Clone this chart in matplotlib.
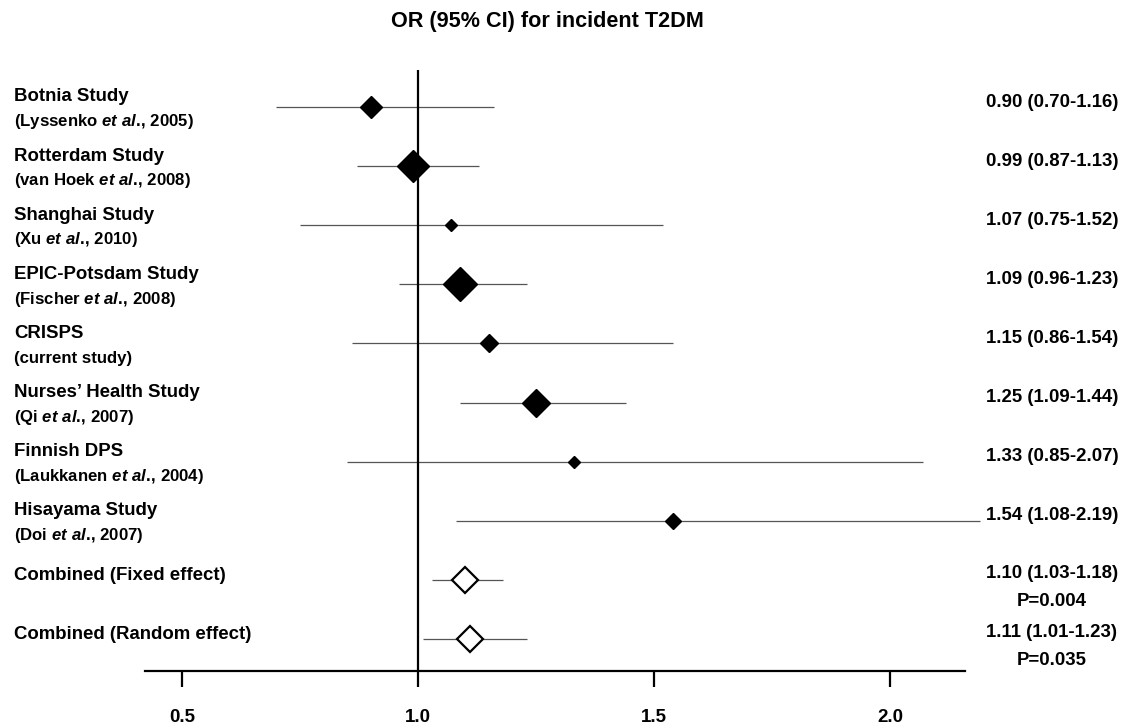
import numpy as np
import matplotlib.pyplot as plt
from matplotlib.transforms import blended_transform_factory

plt.rcParams['font.family'] = ['Liberation Sans', 'DejaVu Sans']
plt.rcParams['font.weight'] = 'bold'
plt.rcParams['mathtext.fontset'] = 'custom'
plt.rcParams['mathtext.it'] = 'Liberation Sans:italic:bold'
plt.rcParams['mathtext.rm'] = 'Liberation Sans:bold'

ETAL = r'$\mathit{et\ al.}\!$'

## study data
studies = ['Botnia Study', 'Rotterdam Study', 'Shanghai Study', 'EPIC-Potsdam Study',
           'CRISPS', "Nurses\u2019 Health Study", 'Finnish DPS', 'Hisayama Study']
refs = ['(Lyssenko ' + ETAL + ', 2005)', '(van Hoek ' + ETAL + ', 2008)',
        '(Xu ' + ETAL + ', 2010)', '(Fischer ' + ETAL + ', 2008)',
        '(current study)', '(Qi ' + ETAL + ', 2007)',
        '(Laukkanen ' + ETAL + ', 2004)', '(Doi ' + ETAL + ', 2007)']
or_est = [0.90, 0.99, 1.07, 1.09, 1.15, 1.25, 1.33, 1.54]
ci_low = [0.70, 0.87, 0.75, 0.96, 0.86, 1.09, 0.85, 1.08]
ci_high = [1.16, 1.13, 1.52, 1.23, 1.54, 1.44, 2.07, 2.19]
weights = [10.0, 23.1, 3.8, 27.7, 8.1, 19.0, 3.3, 5.1]   # % weight (box area)

## pooled estimates
pooled_names = ['Combined (Fixed effect)', 'Combined (Random effect)']
pooled_or = [1.10, 1.11]
pooled_low = [1.03, 1.01]
pooled_high = [1.18, 1.23]
pooled_p = ['P=0.004', 'P=0.035']

xticks = [0.5, 1.0, 1.5, 2.0]

fig = plt.figure(figsize=(11.22, 7.24), dpi=100)
ax = fig.add_axes([145/1122, 1-671/724, 820/1122, 601/724])

n = len(studies)
rows = np.arange(n)
prow = np.arange(n, n + len(pooled_names))

# CI lines
ax.hlines(rows, ci_low, ci_high, color='#555555', lw=0.9, clip_on=False, zorder=2)
ax.hlines(prow, pooled_low, pooled_high, color='#555555', lw=0.9, clip_on=False, zorder=2)

# study diamonds, width scaled by sqrt(weight)
for r, x, w in zip(rows, or_est, weights):
    width_px = 35 * np.sqrt(w / max(weights))
    ax.plot(x, r, marker='D', ms=width_px * 0.72 / np.sqrt(2), color='black',
            mec='black', clip_on=False, zorder=4)
for r, x in zip(prow, pooled_or):
    ax.plot(x, r, marker='D', ms=27 * 0.72 / np.sqrt(2), mfc='white', mec='black',
            mew=1.6, clip_on=False, zorder=4)

# reference line at OR = 1
ax.axvline(1.0, color='black', lw=1.6, zorder=3)

ax.set_xlim(0.4216, 2.159)
ax.set_ylim(9.543, -0.626)
for s in ['top', 'right', 'left']:
    ax.spines[s].set_visible(False)
ax.spines['bottom'].set_linewidth(1.6)
ax.set_yticks([])
ax.set_xticks(xticks)
ax.set_xticklabels(['%.1f' % t for t in xticks], fontsize=13.5, fontweight='bold')
# tick marks drawn as short lines hanging below the axis
ax.tick_params(axis='x', length=0, pad=27)
ax.vlines(xticks, -0.027, 0, transform=ax.get_xaxis_transform(), color='black',
          lw=1.6, clip_on=False, zorder=5)

# left labels and right OR text
tr = blended_transform_factory(fig.transFigure, ax.transData)
xl = 14 / 1122
xr = 1052 / 1122
for r in rows:
    ax.text(xl, r - 0.17, studies[r], transform=tr, fontsize=13.4, ha='left', va='center')
    ax.text(xl, r + 0.25, refs[r], transform=tr, fontsize=12.1, ha='left', va='center')
    ax.text(xr, r - 0.08, '%.2f (%.2f-%.2f)' % (or_est[r], ci_low[r], ci_high[r]),
            transform=tr, fontsize=13.4, ha='center', va='center')
for i, r in enumerate(prow):
    ax.text(xl, r - 0.08, pooled_names[i], transform=tr, fontsize=13.4, ha='left', va='center')
    ax.text(xr, r - 0.1, '%.2f (%.2f-%.2f)' % (pooled_or[i], pooled_low[i], pooled_high[i]),
            transform=tr, fontsize=13.4, ha='center', va='center')
    ax.text(xr, r + 0.37, pooled_p[i], transform=tr, fontsize=13.4, ha='center', va='center')

fig.text(547/1122, 1 - 22/724, 'OR (95% CI) for incident T2DM', fontsize=15.6,
         fontweight='bold', ha='center', va='center')

plt.savefig('out.png', dpi=100)
